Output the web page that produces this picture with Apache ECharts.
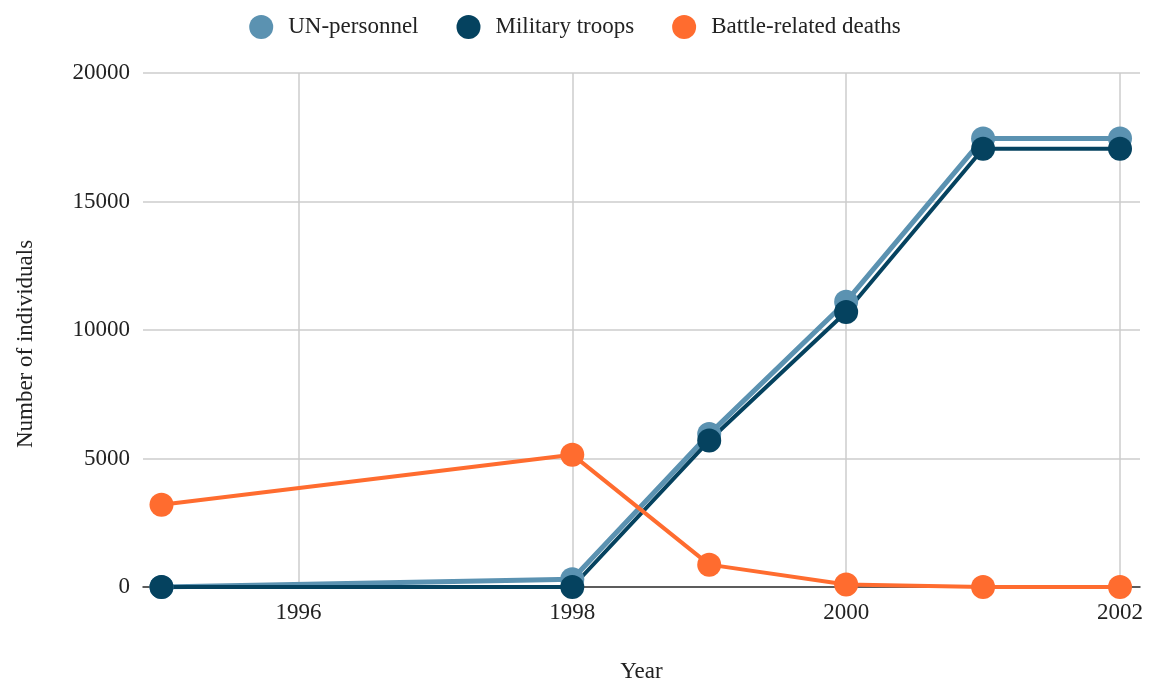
<!DOCTYPE html>
<html>
<head>
<meta charset="utf-8">
<script src="https://cdn.jsdelivr.net/npm/echarts@6/dist/echarts.min.js"></script>
<style>
html,body{margin:0;padding:0;background:#fff;}
#chart{width:1150px;height:682px;}
</style>
</head>
<body>
<div id="chart"></div>
<script>
const years = [1995, 1998, 1999, 2000, 2001, 2002];
const unPersonnel = [0, 300, 5950, 11100, 17450, 17450];
const militaryTroops = [0, 0, 5700, 10700, 17050, 17050];
const battleDeaths = [3200, 5150, 870, 100, 0, 0];
const xTicks = [1996, 1998, 2000, 2002];
const seriesNames = ['UN-personnel', 'Military troops', 'Battle-related deaths'];
const colors = ['#5b92b1', '#05425f', '#ff6c2f'];

const font = '"Liberation Serif", "Times New Roman", serif';
const pair = arr => years.map((y, i) => [y, arr[i]]);

const chart = echarts.init(document.getElementById('chart'));
chart.setOption({
  animation: false,
  color: colors,
  textStyle: { fontFamily: font },
  legend: {
    top: 10,
    left: 'center',
    icon: 'circle',
    itemWidth: 24,
    itemHeight: 24,
    itemGap: 38,
    textStyle: { fontFamily: font, fontSize: 23, color: '#222', padding: [0, 0, 0, 10] },
    data: seriesNames
  },
  grid: { left: 143, right: 10, top: 73, bottom: 95, containLabel: false, outerBoundsMode: 'none' },
  xAxis: {
    type: 'value',
    min: 1994.865,
    max: 2002.146,
    name: 'Year',
    nameLocation: 'middle',
    nameGap: 73,
    nameTextStyle: { fontFamily: font, fontSize: 23, color: '#222' },
    axisLine: { show: true, onZero: false, lineStyle: { color: '#333', width: 1.5 } },
    axisTick: { show: false, customValues: xTicks },
    axisLabel: { customValues: xTicks, fontFamily: font, fontSize: 23, color: '#222', margin: 14,
      formatter: v => String(v) },
    splitLine: { show: true, lineStyle: { color: '#cccccc', width: 1.5 } }
  },
  yAxis: {
    type: 'value',
    min: 0,
    max: 20000,
    interval: 5000,
    name: 'Number of individuals',
    nameLocation: 'middle',
    nameGap: 106,
    nameTextStyle: { fontFamily: font, fontSize: 23, color: '#222', padding: [0, 28, 0, 0] },
    axisLine: { show: false },
    axisTick: { show: false },
    axisLabel: { fontFamily: font, fontSize: 23, color: '#222', margin: 13,
      formatter: v => String(v) },
    splitLine: { show: true, lineStyle: { color: '#cccccc', width: 1.5 } }
  },
  series: [
    { name: seriesNames[0], type: 'line', data: pair(unPersonnel), symbol: 'circle', symbolSize: 24,
      lineStyle: { width: 5, color: colors[0] }, itemStyle: { color: colors[0] } },
    { name: seriesNames[1], type: 'line', data: pair(militaryTroops), symbol: 'circle', symbolSize: 24,
      lineStyle: { width: 4, color: colors[1] }, itemStyle: { color: colors[1] } },
    { name: seriesNames[2], type: 'line', data: pair(battleDeaths), symbol: 'circle', symbolSize: 24,
      lineStyle: { width: 4, color: colors[2] }, itemStyle: { color: colors[2] } }
  ]
});
</script>
</body>
</html>
